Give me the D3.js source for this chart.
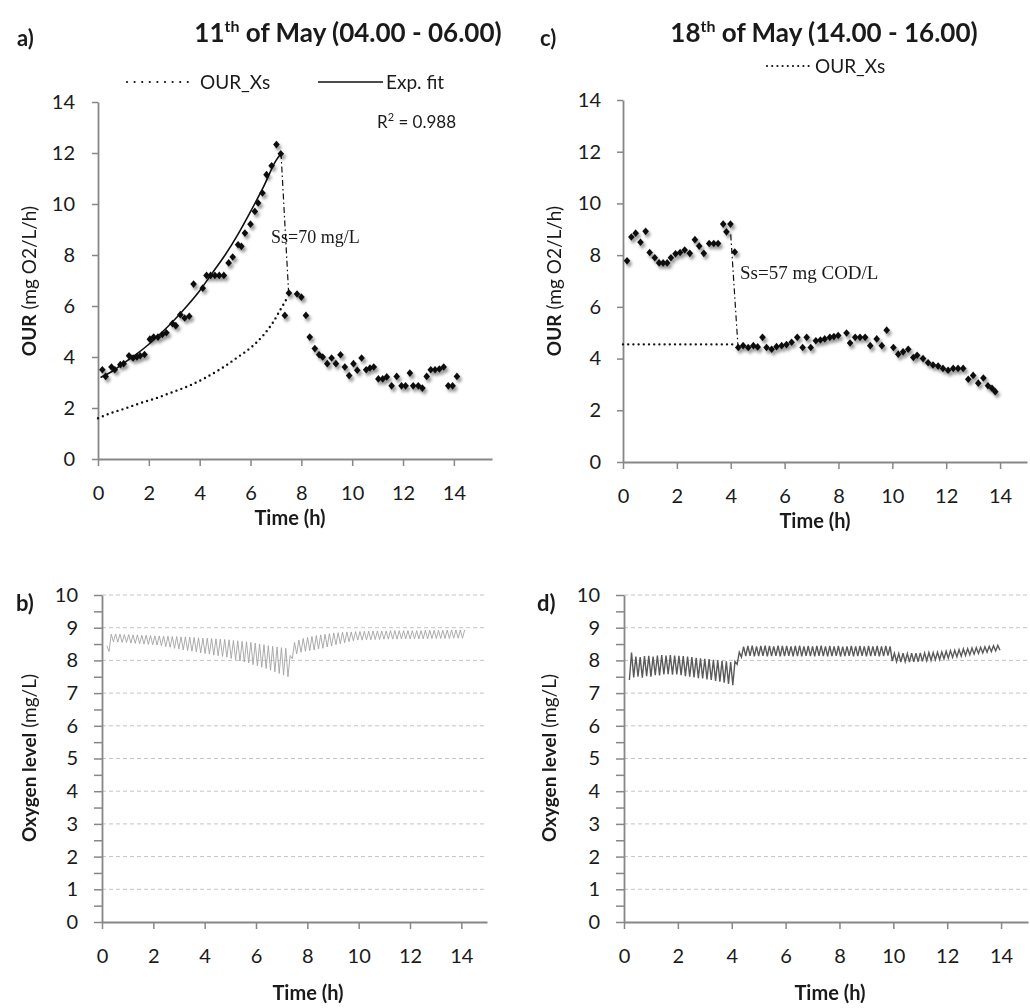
<!DOCTYPE html>
<html>
<head>
<meta charset="utf-8">
<script src="https://cdn.jsdelivr.net/npm/d3@7"></script>
<style>
  body { margin: 0; background: #fff; }
  text { font-family: Lato, "Open Sans", sans-serif; fill: #1a1a1a; }
  .serif { font-family: "Liberation Serif", "DejaVu Serif", serif; }
</style>
</head>
<body>
<div id="container"></div>
<script>
// ---- panel a: 11th of May, OUR (mg O2/L/h) ----
let ourA_t = [0.17,0.30,0.53,0.66,0.88,1.01,1.22,1.38,1.53,1.66,1.83,2.04,2.19,2.36,2.53,2.69,2.93,3.06,3.24,3.41,3.59,3.76,4.12,4.27,4.43,4.60,4.77,4.95,5.14,5.30,5.51,5.64,5.78,6.00,6.17,6.30,6.47,6.63,6.83,7.02,7.19,7.35,7.51,7.83,8.00,8.18,8.33,8.53,8.70,8.84,9.02,9.19,9.36,9.54,9.71,9.88,10.05,10.20,10.37,10.55,10.70,10.85,11.03,11.20,11.36,11.55,11.75,11.94,12.10,12.27,12.40,12.60,12.76,12.93,13.09,13.26,13.43,13.60,13.78,13.95,14.12]
let ourA_v = [3.50,3.24,3.61,3.50,3.70,3.74,4.05,3.96,4.00,4.05,4.10,4.70,4.78,4.78,4.88,4.95,5.31,5.23,5.66,5.53,5.60,6.86,6.70,7.20,7.20,7.20,7.20,7.20,7.69,7.92,8.40,8.34,8.86,9.21,9.71,10.04,10.43,11.15,11.50,12.33,11.97,5.63,6.51,6.47,6.35,5.63,4.78,4.33,4.09,4.00,3.74,3.96,3.74,4.09,3.61,3.27,3.74,3.48,3.96,3.50,3.57,3.61,3.14,3.14,3.22,2.87,3.24,2.87,2.87,3.37,2.87,2.87,2.78,3.24,3.50,3.50,3.53,3.61,2.87,2.87,3.24]

let xsA_t = [0, 0.5, 1, 1.6, 2.3, 2.95, 3.6, 4.25, 4.9, 5.45, 6.0, 6.5, 6.9, 7.2, 7.48]
let xsA_v = [1.6, 1.8, 1.96, 2.17, 2.39, 2.63, 2.88, 3.2, 3.58, 3.96, 4.36, 4.85, 5.38, 5.9, 6.38]

let fitA_t = [0.1, 0.5, 1, 1.5, 2, 2.5, 3, 3.5, 4, 4.5, 5, 5.5, 6, 6.5, 7, 7.2]
let fitA_v = [3.2, 3.4, 3.75, 4.1, 4.5, 4.95, 5.45, 6.0, 6.6, 7.3, 8.0, 8.8, 9.7, 10.65, 11.7, 11.98]

let dropA_t = [7.2, 7.5]
let dropA_v = [12.0, 6.5]

// ---- panel c: 18th of May ----
let ourC_t = [0.15,0.31,0.47,0.65,0.84,0.99,1.18,1.34,1.49,1.64,1.78,1.95,2.12,2.29,2.48,2.67,2.83,3.00,3.20,3.37,3.53,3.72,3.84,3.99,4.15,4.28,4.46,4.65,4.84,5.00,5.18,5.33,5.52,5.70,5.89,6.07,6.26,6.47,6.67,6.82,6.97,7.16,7.33,7.49,7.68,7.83,7.99,8.30,8.43,8.62,8.80,8.99,9.18,9.42,9.61,9.79,10.04,10.22,10.40,10.59,10.78,10.92,11.14,11.33,11.51,11.70,11.88,12.07,12.26,12.44,12.63,12.82,13.00,13.19,13.38,13.55,13.70,13.82]
let ourC_v = [7.78,8.70,8.85,8.50,8.92,8.10,7.90,7.70,7.70,7.70,7.90,8.05,8.10,8.20,8.07,8.60,8.35,8.07,8.45,8.45,8.45,9.20,8.90,9.20,8.12,4.43,4.50,4.43,4.50,4.45,4.82,4.43,4.36,4.46,4.50,4.54,4.63,4.82,4.43,4.82,4.43,4.69,4.72,4.76,4.82,4.85,4.89,4.99,4.60,4.82,4.82,4.82,4.50,4.76,4.50,5.10,4.43,4.17,4.26,4.36,4.04,4.13,4.00,3.84,3.75,3.71,3.62,3.55,3.62,3.62,3.62,3.20,3.35,3.05,3.25,2.95,2.85,2.72]

let xsC_t = [0, 4.1]
let xsC_v = [4.55, 4.55]

let dropC_t = [4.0, 4.27]
let dropC_v = [8.8, 4.45]

// ---- panel b: oxygen level, 11th of May (logged every 0.085 h from 0.19 h) ----
let doB_start = 0.19
let doB_step = 0.085
let doB = [
  8.45,8.27,
  8.80,8.57, 8.81,8.56, 8.80,8.55, 8.79,8.55, 8.79,8.53, 8.78,8.52, 8.78,8.51, 8.77,8.50, 8.77,8.49, 8.76,8.48,
  8.75,8.47, 8.75,8.45, 8.74,8.42, 8.74,8.40, 8.73,8.37, 8.73,8.35, 8.72,8.32, 8.72,8.30, 8.71,8.28, 8.70,8.26,
  8.69,8.23, 8.68,8.21, 8.68,8.19, 8.67,8.16, 8.66,8.14, 8.65,8.12, 8.64,8.10, 8.63,8.06, 8.61,8.02, 8.60,7.98,
  8.58,7.95, 8.57,7.92, 8.55,7.87, 8.53,7.83, 8.50,7.79, 8.48,7.75, 8.45,7.70, 8.43,7.65, 8.41,7.60, 8.39,7.55,
  8.37,7.50,
  8.15,8.05,
  8.55,8.20, 8.62,8.25, 8.67,8.28, 8.70,8.30, 8.73,8.32, 8.76,8.35, 8.78,8.37, 8.80,8.41, 8.82,8.44, 8.84,8.48,
  8.85,8.51, 8.86,8.54, 8.87,8.57, 8.87,8.60, 8.88,8.62, 8.88,8.62, 8.89,8.63, 8.89,8.63, 8.90,8.64, 8.90,8.64,
  8.90,8.65, 8.90,8.65, 8.91,8.65, 8.91,8.65, 8.91,8.66, 8.91,8.66, 8.91,8.66, 8.91,8.66, 8.91,8.66, 8.91,8.66,
  8.92,8.66, 8.92,8.67, 8.92,8.67, 8.92,8.67, 8.92,8.67, 8.93,8.67, 8.93,8.68, 8.93,8.68, 8.93,8.68,
  8.93
]

// ---- panel d: oxygen level, 18th of May (logged every 0.08 h from 0.2 h) ----
let doD_start = 0.2
let doD_step = 0.08
let doD = [
  7.40,8.24,
  7.48,8.12, 7.50,8.10, 7.47,8.13, 7.52,8.14, 7.50,8.12, 7.55,8.15, 7.54,8.16, 7.57,8.15, 7.58,8.16, 7.56,8.15,
  7.57,8.14, 7.55,8.13, 7.52,8.12, 7.50,8.10, 7.48,8.08, 7.46,8.06, 7.45,8.05, 7.42,8.04, 7.40,8.02, 7.37,8.00,
  7.35,7.99, 7.32,7.97, 7.28,7.95,
  7.24,7.97, 7.88,8.25, 8.10,8.42,
  8.13,8.44, 8.14,8.45, 8.12,8.43, 8.13,8.44, 8.14,8.45, 8.12,8.44, 8.13,8.43, 8.14,8.45, 8.12,8.44, 8.13,8.44,
  8.14,8.43, 8.12,8.44, 8.13,8.45, 8.12,8.43, 8.14,8.44, 8.13,8.43, 8.12,8.44, 8.14,8.45, 8.13,8.43, 8.12,8.44,
  8.13,8.43, 8.14,8.44, 8.12,8.42, 8.13,8.43, 8.14,8.44, 8.12,8.43, 8.13,8.44, 8.14,8.43, 8.12,8.44, 8.13,8.43,
  8.14,8.44, 8.12,8.43, 8.13,8.44, 8.15,8.43,
  7.98,8.22, 7.96,8.21, 7.95,8.22, 7.96,8.21, 7.95,8.22, 7.96,8.22, 7.96,8.23, 7.97,8.23, 7.99,8.24, 8.00,8.24,
  8.02,8.25, 8.03,8.26, 8.05,8.28, 8.07,8.30, 8.09,8.31, 8.11,8.33, 8.13,8.35, 8.15,8.36, 8.17,8.38, 8.19,8.39,
  8.21,8.40, 8.23,8.42, 8.25,8.43, 8.27,8.45, 8.29,8.46,
  8.31
]

let xTicks = [0, 2, 4, 6, 8, 10, 12, 14]
let ourTicks = [0, 2, 4, 6, 8, 10, 12, 14]
let doTicks = [0, 1, 2, 3, 4, 5, 6, 7, 8, 9, 10]

const FONT = 'Lato, "Open Sans", sans-serif'
const axisGrey = '#878787'

let svg = d3.select('#container')
            .append('svg')
            .attr('width', 1030)
            .attr('height', 1008)

let defs = svg.append('defs')
defs.append('filter')
    .attr('id', 'shadow')
    .attr('x', '-100%').attr('y', '-100%')
    .attr('width', '300%').attr('height', '300%')
    .append('feDropShadow')
    .attr('dx', 2).attr('dy', 3)
    .attr('stdDeviation', 1.7)
    .attr('flood-color', '#000')
    .attr('flood-opacity', 0.42)

// scales
let xA = d3.scaleLinear().domain([0, 15.5]).range([98, 492])
let yA = d3.scaleLinear().domain([0, 14]).range([459, 102])
let xC = d3.scaleLinear().domain([0, 15]).range([623, 1027])
let yC = d3.scaleLinear().domain([0, 14]).range([462, 100])
let xB = d3.scaleLinear().domain([0, 15]).range([102, 487])
let yB = d3.scaleLinear().domain([0, 10]).range([922, 595])
let xD = d3.scaleLinear().domain([0, 15]).range([624, 1028])
let yD = d3.scaleLinear().domain([0, 10]).range([922, 595])

function styleAxis(g) {
  g.attr('font-family', FONT).attr('font-size', 20)
  g.select('.domain').attr('stroke', axisGrey).attr('stroke-width', 1.8)
  g.selectAll('.tick line').attr('stroke', axisGrey).attr('stroke-width', 1.5)
  g.selectAll('.tick text').attr('fill', '#1a1a1a')
}

function drawAxes(x, y, yTickVals, yFormat, pad) {
  svg.append('g')
     .attr('transform', 'translate(0,' + y(0) + ')')
     .call(d3.axisBottom(x).tickValues(xTicks).tickSize(7).tickSizeOuter(0).tickPadding(pad.x))
     .call(styleAxis)
  svg.append('g')
     .attr('transform', 'translate(' + x(0) + ',0)')
     .call(d3.axisLeft(y).tickValues(yTickVals).tickFormat(yFormat).tickSize(pad.ts).tickSizeOuter(0).tickPadding(pad.y))
     .call(styleAxis)
}

function gridLines(x, y) {
  svg.append('g')
     .selectAll('line')
     .data(doTicks.filter(d => d > 0))
     .enter()
     .append('line')
     .attr('x1', x(0)).attr('x2', x.range()[1])
     .attr('y1', d => y(d)).attr('y2', d => y(d))
     .attr('stroke', '#c4c4c4')
     .attr('stroke-width', 1)
     .attr('stroke-dasharray', '4,3')
}

function pts(ts, vs) { return ts.map((t, i) => [t, vs[i]]) }

let diamond = {
  draw(ctx, size) {
    let r = Math.sqrt(size) / 2
    ctx.moveTo(0, -r * 1.15); ctx.lineTo(r, 0); ctx.lineTo(0, r * 1.15); ctx.lineTo(-r, 0); ctx.closePath()
  }
}

function scatter(x, y, ts, vs) {
  svg.append('g')
     .attr('filter', 'url(#shadow)')
     .selectAll('path')
     .data(pts(ts, vs))
     .enter()
     .append('path')
     .attr('d', d3.symbol().type(diamond).size(44))
     .attr('transform', d => 'translate(' + x(d[0]) + ',' + y(d[1]) + ')')
     .attr('fill', '#111')
}

function line(x, y, data, style, curve) {
  let gen = d3.line().x(d => x(d[0])).y(d => y(d[1])).curve(curve || d3.curveLinear)
  let p = svg.append('path')
     .datum(data)
     .attr('d', gen)
     .attr('fill', 'none')
  for (let k in style) p.attr(k, style[k])
  return p
}

const dotted = { stroke: '#111', 'stroke-width': 2.4, 'stroke-dasharray': '0,5.2', 'stroke-linecap': 'round' }
const dashDot = { stroke: '#111', 'stroke-width': 1.2, 'stroke-dasharray': '6,3,1.5,3' }
const solid = { stroke: '#111', 'stroke-width': 1.6 }

// ---------- panel a ----------
drawAxes(xA, yA, ourTicks, d3.format('d'), { x: 20, y: 17, ts: 6 })
line(xA, yA, pts(xsA_t, xsA_v), dotted, d3.curveMonotoneX)
line(xA, yA, pts(fitA_t, fitA_v), solid, d3.curveMonotoneX)
line(xA, yA, pts(dropA_t, dropA_v), dashDot)
scatter(xA, yA, ourA_t, ourA_v)

// ---------- panel c ----------
drawAxes(xC, yC, ourTicks, d3.format('d'), { x: 20, y: 16, ts: 6 })
line(xC, yC, pts(xsC_t, xsC_v), dotted)
line(xC, yC, pts(dropC_t, dropC_v), dashDot)
scatter(xC, yC, ourC_t, ourC_v)

// ---------- panel b ----------
let halfTicks = d3.range(0, 10.01, 0.5)
let intOnly = d => Number.isInteger(d) ? d : ''
gridLines(xB, yB)
drawAxes(xB, yB, halfTicks, intOnly, { x: 20, y: 16, ts: 8 })
line(xB, yB, doB.map((v, i) => [doB_start + i * doB_step, v]), { stroke: '#a3a3a3', 'stroke-width': 0.9 })

// ---------- panel d ----------
gridLines(xD, yD)
drawAxes(xD, yD, halfTicks, intOnly, { x: 20, y: 16, ts: 8 })
line(xD, yD, doD.map((v, i) => [doD_start + i * doD_step, v]), { stroke: '#5a5a5a', 'stroke-width': 1.4 })

// ---------- texts ----------
function label(x, y, txt, size, weight, anchor) {
  return svg.append('text')
            .attr('x', x).attr('y', y)
            .attr('font-size', size)
            .attr('font-weight', weight || 'normal')
            .attr('text-anchor', anchor || 'start')
            .text(txt)
}

function title(cx, y, day, rest) {
  let t = svg.append('text').attr('x', cx).attr('y', y)
             .attr('text-anchor', 'middle').attr('font-size', 26).attr('font-weight', 'bold')
  t.append('tspan').text(day)
  t.append('tspan').attr('dy', -10).attr('font-size', 16).text('th')
  t.append('tspan').attr('dy', 10).text(rest)
}

label(17, 46, 'a)', 22, 'bold')
label(540, 46, 'c)', 22, 'bold')
label(16, 611, 'b)', 22, 'bold')
label(537, 611, 'd)', 22, 'bold')
title(348, 42, '11', ' of May (04.00 - 06.00)')
title(824, 42, '18', ' of May (14.00 - 16.00)')

function yTitle(cx, cy, bold, rest) {
  let t = svg.append('text')
             .attr('transform', 'translate(' + cx + ',' + cy + ') rotate(-90)')
             .attr('text-anchor', 'middle').attr('font-size', 19)
  t.append('tspan').attr('font-weight', 'bold').text(bold)
  t.append('tspan').text(rest)
}
yTitle(36, 281, 'OUR', ' (mg O2/L/h)')
yTitle(561, 281, 'OUR', ' (mg O2/L/h)')
yTitle(36, 758, 'Oxygen level', ' (mg/L)')
yTitle(556, 758, 'Oxygen level', ' (mg/L)')

label(290, 525, 'Time (h)', 20, 'bold', 'middle')
label(815, 528, 'Time (h)', 20, 'bold', 'middle')
label(308, 1000, 'Time (h)', 20, 'bold', 'middle')
label(830, 1000, 'Time (h)', 20, 'bold', 'middle')

// legends
svg.append('line').attr('x1', 127).attr('x2', 189).attr('y1', 82).attr('y2', 82)
   .attr('stroke', '#111').attr('stroke-width', 2.2).attr('stroke-dasharray', '0,7.6').attr('stroke-linecap', 'round')
label(200, 89, 'OUR_Xs', 19)
svg.append('line').attr('x1', 318).attr('x2', 383).attr('y1', 82).attr('y2', 82)
   .attr('stroke', '#111').attr('stroke-width', 1.6)
label(386, 89, 'Exp. fit', 19)

svg.append('line').attr('x1', 767).attr('x2', 809).attr('y1', 66).attr('y2', 66)
   .attr('stroke', '#111').attr('stroke-width', 2.2).attr('stroke-dasharray', '0,5.2').attr('stroke-linecap', 'round')
label(815, 73, 'OUR_Xs', 19)

let r2 = svg.append('text').attr('x', 377).attr('y', 128).attr('font-size', 17)
r2.append('tspan').text('R')
r2.append('tspan').attr('dy', -7).attr('font-size', 11).text('2')
r2.append('tspan').attr('dy', 7).text(' = 0.988')

label(271, 243, 'Ss=70 mg/L', 18).attr('class', 'serif')
label(740, 279, 'Ss=57 mg COD/L', 19).attr('class', 'serif')
</script>
</body>
</html>
